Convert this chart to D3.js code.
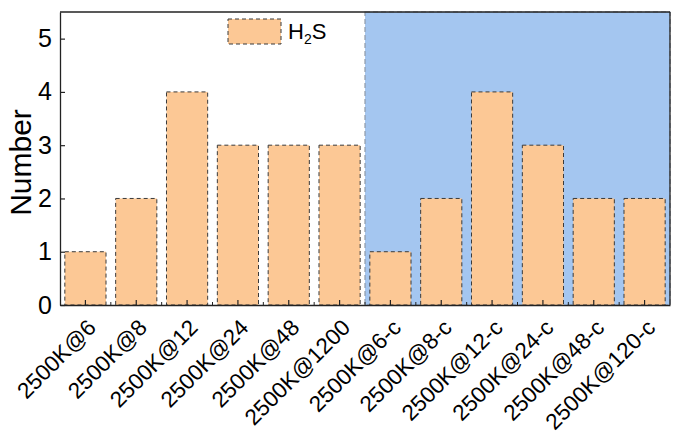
<!DOCTYPE html>
<html>
<head>
<meta charset="utf-8">
<script src="https://cdn.jsdelivr.net/npm/d3@7"></script>
<style>
  body { margin: 0; background: #fff; }
  svg { display: block; font-family: "Liberation Sans", Arial, sans-serif; }
</style>
</head>
<body>
<svg width="676" height="433"></svg>
<script>
const categories = ["2500K@6", "2500K@8", "2500K@12", "2500K@24", "2500K@48", "2500K@1200",
    "2500K@6-c", "2500K@8-c", "2500K@12-c", "2500K@24-c", "2500K@48-c", "2500K@120-c"];
const h2sCounts = [1, 2, 4, 3, 3, 3, 1, 2, 4, 3, 2, 2];
const yTicks = [0, 1, 2, 3, 4, 5];
const shadedFrom = "2500K@6-c";

const svg = d3.select("svg");
const margin = {top: 12, right: 6, bottom: 128, left: 60};
const width = +svg.attr("width") - margin.left - margin.right;
const height = +svg.attr("height") - margin.top - margin.bottom;
const g = svg.append("g").attr("transform", `translate(${margin.left},${margin.top})`);

const x = d3.scaleBand().domain(categories).range([0, width]).paddingInner(0.19).paddingOuter(0.095);
const y = d3.scaleLinear().domain([0, 5.5]).range([height, 0]);

// shaded region for the "-c" runs
const x0 = x(shadedFrom) - x.step() * x.paddingInner() / 2;
g.append("rect")
    .attr("x", x0)
    .attr("y", 0)
    .attr("width", width - x0)
    .attr("height", height)
    .attr("fill", "#a4c6f0")
    .attr("stroke", "#8f9aa8")
    .attr("stroke-width", 1.2)
    .attr("stroke-dasharray", "5,3");

// bars
g.selectAll(".bar")
    .data(categories)
    .join("rect")
    .attr("class", "bar")
    .attr("x", d => x(d))
    .attr("y", (d, i) => y(h2sCounts[i]))
    .attr("width", x.bandwidth())
    .attr("height", (d, i) => y(0) - y(h2sCounts[i]))
    .attr("fill", "#fcc895")
    .attr("stroke", "#3a3a3a")
    .attr("stroke-width", 1)
    .attr("stroke-dasharray", "4,3");

// frame lines (top & right)
g.append("line").attr("x1", 0).attr("x2", width).attr("y1", 0).attr("y2", 0)
    .attr("stroke", "#222").attr("stroke-width", 1.3);
g.append("line").attr("x1", width).attr("x2", width).attr("y1", 0).attr("y2", height)
    .attr("stroke", "#222").attr("stroke-width", 1.3);

// y axis
const yAxis = g.append("g")
    .call(d3.axisLeft(y).tickValues(yTicks).tickFormat(d3.format("d")).tickSizeInner(-5).tickSizeOuter(0).tickPadding(8));
yAxis.select(".domain").attr("stroke", "#222").attr("stroke-width", 1.3);
yAxis.selectAll(".tick line").attr("stroke", "#222").attr("stroke-width", 1.2);
yAxis.selectAll(".tick text").attr("font-size", 25).attr("fill", "#000");

// x axis
const xAxis = g.append("g")
    .attr("transform", `translate(0,${height})`)
    .call(d3.axisBottom(x).tickSizeInner(-5).tickSizeOuter(0));
xAxis.select(".domain").attr("stroke", "#222").attr("stroke-width", 1.3);
xAxis.selectAll(".tick line").attr("stroke", "#222").attr("stroke-width", 1.2);
xAxis.selectAll(".tick text")
    .attr("font-size", 22.5)
    .attr("fill", "#000")
    .attr("text-anchor", "end")
    .attr("x", 0)
    .attr("y", 0)
    .attr("dy", 0)
    .attr("transform", "translate(12,24) rotate(-45)");

// minor ticks at band boundaries
g.append("g").selectAll("line")
    .data(categories.slice(1))
    .join("line")
    .attr("x1", d => x(d) - x.step() * x.paddingInner() / 2)
    .attr("x2", d => x(d) - x.step() * x.paddingInner() / 2)
    .attr("y1", height)
    .attr("y2", height - 3)
    .attr("stroke", "#222")
    .attr("stroke-width", 1);

// y label
svg.append("text")
    .attr("transform", `translate(20,${margin.top + height / 2 + 4}) rotate(-90)`)
    .attr("text-anchor", "middle")
    .attr("dy", "0.35em")
    .attr("font-size", 30)
    .text("Number");

// legend
const legend = svg.append("g").attr("transform", "translate(228,19)");
legend.append("rect")
    .attr("width", 53).attr("height", 25)
    .attr("fill", "#fcc895")
    .attr("stroke", "#3a3a3a")
    .attr("stroke-dasharray", "4,3");
const lt = legend.append("text").attr("x", 60).attr("y", 20).attr("font-size", 22);
lt.append("tspan").text("H");
lt.append("tspan").attr("font-size", 14).attr("dy", 5).text("2");
lt.append("tspan").attr("dy", -5).text("S");
</script>
</body>
</html>
